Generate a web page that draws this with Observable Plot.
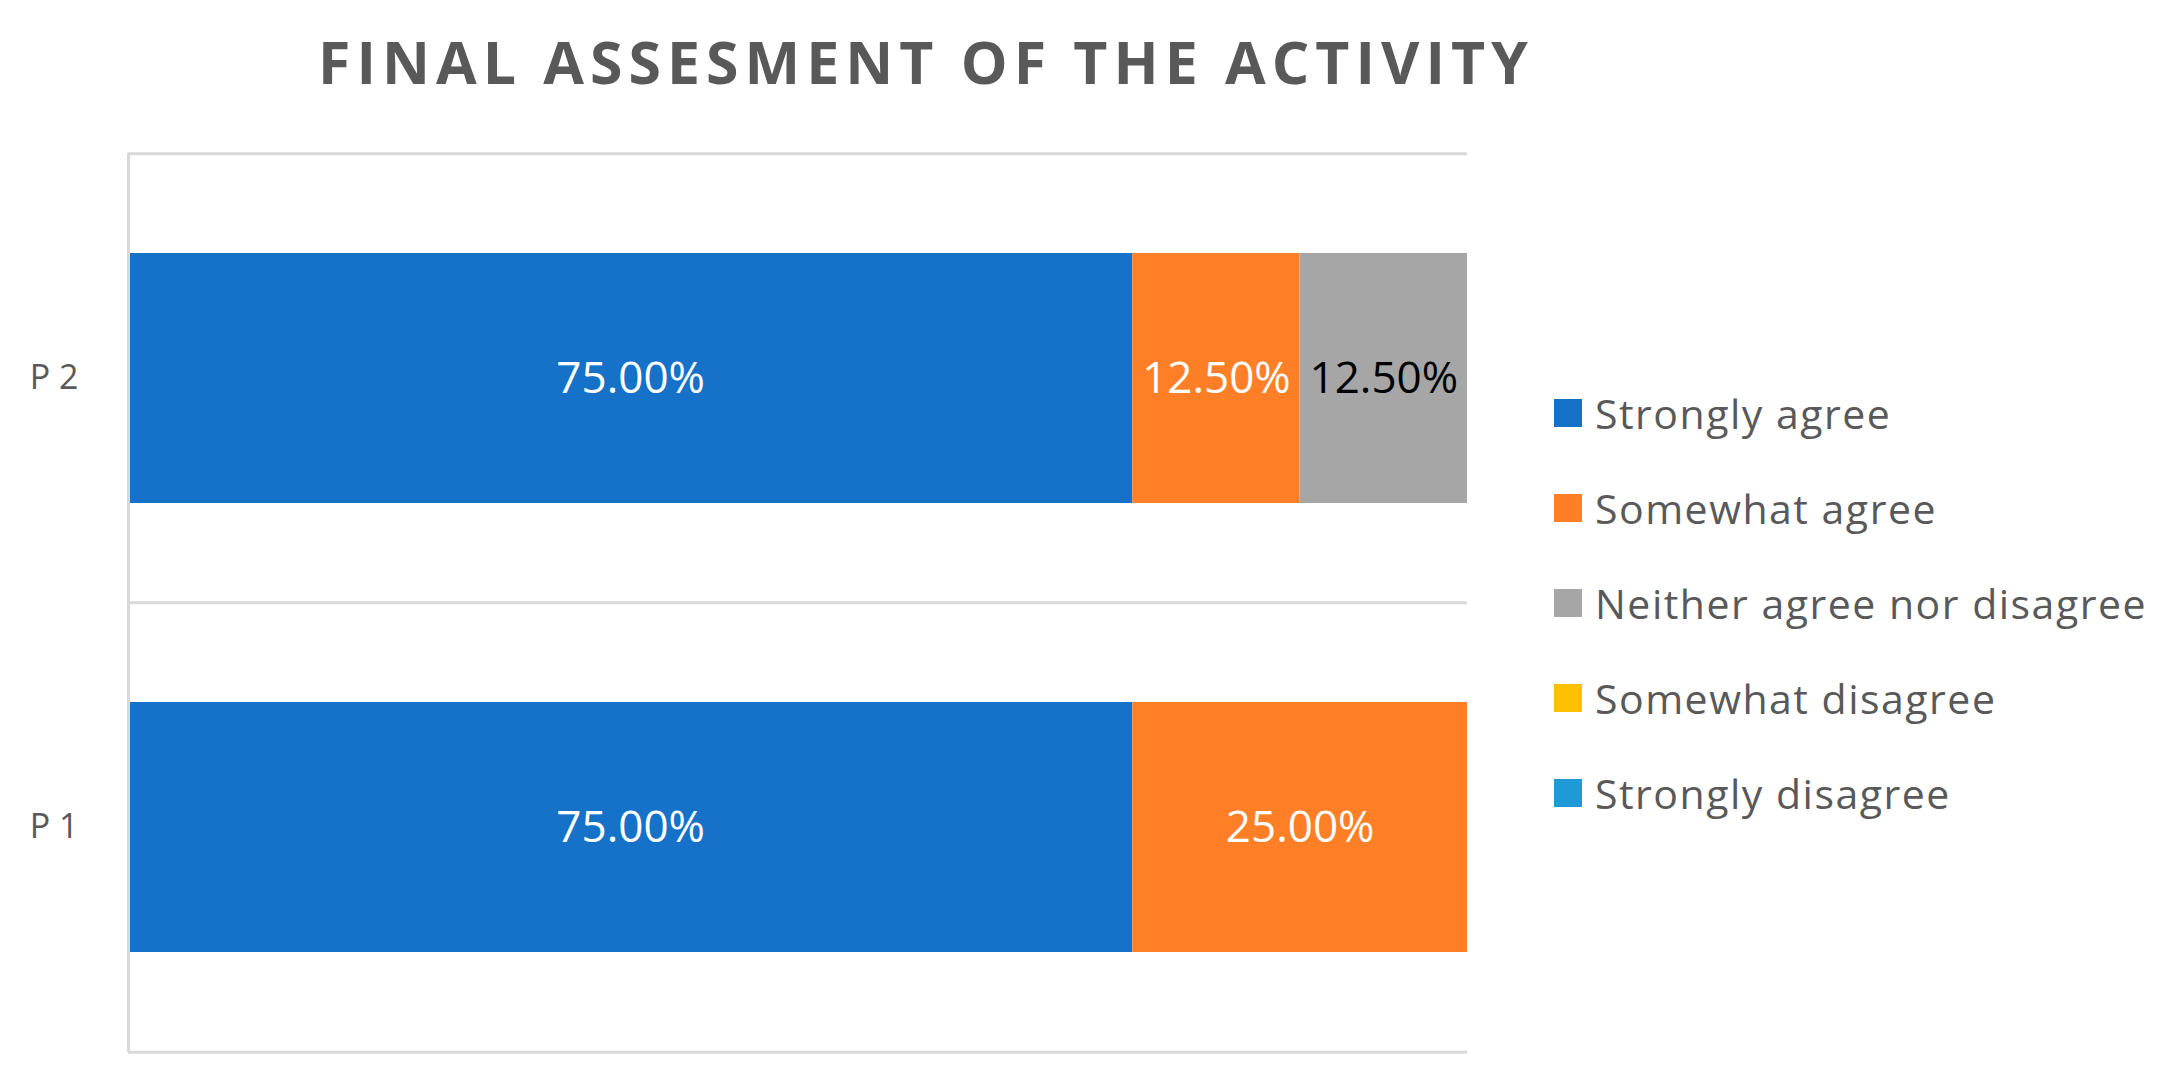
<!DOCTYPE html>
<html>
<head>
<meta charset="utf-8">
<script src="https://cdn.jsdelivr.net/npm/d3@7"></script>
<script src="https://cdn.jsdelivr.net/npm/@observablehq/plot@0.6"></script>
<style>
  html, body { margin: 0; padding: 0; background: #fff; }
  #chart { position: relative; width: 2176px; height: 1092px; font-family: "Open Sans", sans-serif; }
  #title { height: 110px; width: 1852px; text-align: center; font-weight: 700; font-size: 59px; letter-spacing: 6px; color: #595959; line-height: 110px; padding-top: 6px; box-sizing: border-box; }
  #legend { position: absolute; left: 1554px; top: 365px; }
  .item { display: flex; align-items: center; height: 95.2px; font-size: 41px; letter-spacing: 1.5px; color: #595959; }
  .sw { width: 28px; height: 28px; margin-right: 13px; }
</style>
</head>
<body>
<div id="chart">
  <div id="title">FINAL ASSESMENT OF THE ACTIVITY</div>
  <div id="plot"></div>
  <div id="legend"></div>
</div>
<script>
const questions = ["P 2", "P 1"];
const responses = ["Strongly agree", "Somewhat agree", "Neither agree nor disagree", "Somewhat disagree", "Strongly disagree"];
const colors = ["#1572C8", "#FF7F27", "#A6A6A6", "#FFC000", "#1E9BD7"];
const p1Values = [75, 25, 0, 0, 0];
const p2Values = [75, 12.5, 12.5, 0, 0];

const data = [];
responses.forEach((r, i) => {
  data.push({q: "P 1", response: r, value: p1Values[i]});
  data.push({q: "P 2", response: r, value: p2Values[i]});
});

const width = 2176, height = 982;
const mt = 43, mb = 40, ml = 128, mr = 709;
const step = (height - mt - mb) / questions.length;
const darkLabel = "Neither agree nor disagree";
const fmt = d => d.value.toFixed(2) + "%";
const stackOpts = {x: "value", y: "q", z: "response", order: responses};

const chart = Plot.plot({
  width, height,
  marginTop: mt, marginBottom: mb, marginLeft: ml, marginRight: mr,
  style: {fontFamily: "Open Sans", fontSize: "34px", color: "#595959", background: "#fff"},
  x: {domain: [0, 100], axis: null},
  y: {domain: questions, paddingInner: 0.444, paddingOuter: 0.222, label: null, tickSize: 0, tickPadding: 50},
  color: {domain: responses, range: colors},
  marks: [
    Plot.ruleY(questions, {y: d => d, dy: -step / 2, stroke: "#d9d9d9", strokeWidth: 3, x1: 0, x2: 100}),
    Plot.ruleY([questions[questions.length - 1]], {y: d => d, dy: step / 2, stroke: "#d9d9d9", strokeWidth: 3, x1: 0, x2: 100}),
    Plot.barX(data, Plot.stackX({...stackOpts, fill: "response"})),
    Plot.ruleX([0], {stroke: "#d9d9d9", strokeWidth: 3}),
    Plot.text(data, Plot.stackX({...stackOpts,
      text: d => (d.value > 0 && d.response !== darkLabel) ? fmt(d) : "",
      fill: "white", fontSize: 44})),
    Plot.text(data, Plot.stackX({...stackOpts,
      text: d => (d.value > 0 && d.response === darkLabel) ? fmt(d) : "",
      fill: "black", fontSize: 44}))
  ]
});
document.getElementById("plot").appendChild(chart);

const legend = d3.select("#legend");
responses.forEach((r, i) => {
  const item = legend.append("div").attr("class", "item");
  item.append("div").attr("class", "sw").style("background", colors[i]);
  item.append("span").text(r);
});
</script>
</body>
</html>
